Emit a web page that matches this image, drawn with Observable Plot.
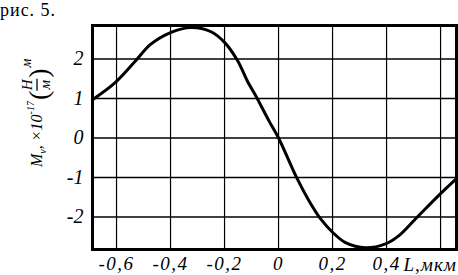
<!DOCTYPE html>
<html>
<head>
<meta charset="utf-8">
<script src="https://cdn.jsdelivr.net/npm/d3@7"></script>
<script src="https://cdn.jsdelivr.net/npm/@observablehq/plot@0.6"></script>
<style>
  html, body { margin: 0; padding: 0; background: white; }
  svg text { font-family: "Liberation Serif", "Times New Roman", serif; }
</style>
</head>
<body>
<div id="chart"></div>
<script>
// Curve data
const lengths = [-0.689, -0.604, -0.53, -0.474, -0.40, -0.324, -0.25, -0.20, -0.151, -0.116, -0.079, -0.036, 0, 0.069, 0.112, 0.156, 0.199, 0.248, 0.322, 0.396, 0.446, 0.507, 0.60, 0.659];
const moments = [0.97, 1.41, 1.95, 2.37, 2.67, 2.80, 2.69, 2.42, 1.95, 1.45, 1.0, 0.44, 0, -1.03, -1.58, -2.05, -2.38, -2.65, -2.78, -2.68, -2.47, -2.05, -1.41, -1.03];

// Ticks / grid
const xGrid = [-0.6, -0.4, -0.2, 0, 0.2, 0.4, 0.6];
const xTickValues = [-0.6, -0.4, -0.2, 0, 0.2, 0.4];
const yTickValues = [-2, -1, 0, 1, 2];
const xAxisLabel = "L,мкм";
const figureTitle = "рис. 5.";

const data = lengths.map((x, i) => ({x, y: moments[i]}));
const fmtX = d => d === 0 ? "0" : d.toFixed(1).replace(".", ",");
const SERIF = "Liberation Serif";

const chart = Plot.plot({
  width: 458,
  height: 275,
  marginLeft: 92,
  marginRight: 2,
  marginTop: 25,
  marginBottom: 26,
  x: {domain: [-0.689, 0.659]},
  y: {domain: [-2.823, 2.848]},
  style: {fontFamily: SERIF, fontStyle: "italic", fontSize: "17px", color: "black", background: "white"},
  marks: [
    Plot.gridX(xGrid, {stroke: "black", strokeOpacity: 1, strokeWidth: 1.2}),
    Plot.gridY(yTickValues, {stroke: "black", strokeOpacity: 1, strokeWidth: 1.6}),
    Plot.line(data, {x: "x", y: "y", stroke: "black", strokeWidth: 3, curve: "catmull-rom"}),
    Plot.frame({stroke: "black", strokeWidth: 3}),
    Plot.axisX(xTickValues, {tickSize: 0, tickPadding: 7, tickFormat: fmtX, label: null, fontSize: 19, fontFamily: SERIF, fontStyle: "italic"}),
    Plot.axisY(yTickValues, {tickSize: 0, tickPadding: 9, tickFormat: d => String(d), label: null, fontSize: 20, fontFamily: SERIF, fontStyle: "italic"})
  ]
});
document.getElementById("chart").appendChild(chart);

const svg = d3.select(chart);
// spread tick label letters like the reference
svg.selectAll("[aria-label='x-axis tick label'] text").attr("letter-spacing", 1.5);

// Title
svg.append("text")
  .attr("x", 0).attr("y", 16)
  .attr("text-anchor", "start")
  .attr("font-family", SERIF).attr("font-style", "normal")
  .attr("font-size", 18).attr("letter-spacing", 1).attr("fill", "black")
  .text(figureTitle);

// x axis label
svg.append("text")
  .attr("x", 457).attr("y", 271)
  .attr("text-anchor", "end")
  .attr("font-family", SERIF).attr("font-style", "italic")
  .attr("font-size", 19).attr("letter-spacing", 1).attr("fill", "black")
  .text(xAxisLabel);

// y axis label (rotated, with fraction)
const g = svg.append("g").attr("transform", "translate(42,167) rotate(-90)")
  .attr("text-anchor", "start")
  .attr("font-family", SERIF).attr("font-style", "italic").attr("fill", "black");
const t1 = g.append("text").attr("x", 0).attr("y", 0).attr("font-size", 16);
t1.append("tspan").text("M");
t1.append("tspan").attr("font-size", 10).attr("dy", 4).text("v");
t1.append("tspan").attr("dy", -4).text(", ×10");
t1.append("tspan").attr("font-size", 10).attr("dy", -8).text("-17");
let x = t1.node().getComputedTextLength() + 1;
const lp = g.append("text").attr("x", x).attr("y", 6).attr("font-size", 28).attr("font-style", "normal").text("(");
x += lp.node().getComputedTextLength();
g.append("text").attr("x", x + 6).attr("y", -10).attr("text-anchor", "middle").attr("font-size", 15).text("Н");
g.append("text").attr("x", x + 6).attr("y", 8).attr("text-anchor", "middle").attr("font-size", 15).text("м");
g.append("line").attr("x1", x).attr("x2", x + 12).attr("y1", -5).attr("y2", -5).attr("stroke", "black").attr("stroke-width", 1.3);
x += 13;
const rp = g.append("text").attr("x", x).attr("y", 6).attr("font-size", 28).attr("font-style", "normal").text(")");
x += rp.node().getComputedTextLength() + 1;
g.append("text").attr("x", x).attr("y", -11).attr("font-size", 14).text("м");
</script>
</body>
</html>
